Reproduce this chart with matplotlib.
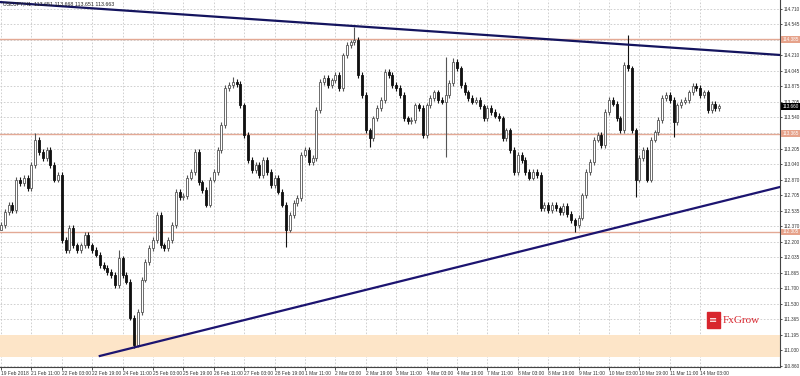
import numpy as np
from matplotlib import pyplot as plt
from matplotlib.patches import Rectangle

# USDJPY H1 chart (2-hour bars, closes)
closes = [
    112.38, 112.52, 112.60, 112.54, 112.87, 112.83, 112.89, 112.78, 113.03, 113.30,
    113.17, 113.10, 113.19, 113.03, 112.87, 112.92, 112.22, 112.11, 112.35, 112.16,
    112.11, 112.16, 112.27, 112.16, 112.11, 112.06, 111.95, 111.92, 111.87, 111.84,
    111.73, 112.02, 111.84, 111.77, 111.38, 111.09, 111.44, 111.79, 111.98, 112.13,
    112.22, 112.49, 112.16, 112.13, 112.22, 112.38, 112.74, 112.68, 112.69, 112.89,
    112.95, 113.17, 112.84, 112.76, 112.60, 112.87, 112.95, 113.19, 113.46, 113.86,
    113.89, 113.92, 113.90, 113.67, 113.35, 113.08, 112.97, 113.03, 112.92, 113.08,
    112.95, 112.81, 112.89, 112.74, 112.60, 112.33, 112.49, 112.62, 112.67, 113.14,
    113.19, 113.06, 113.10, 113.62, 113.92, 113.97, 113.89, 113.94, 114.00, 113.86,
    114.21, 114.32, 114.35, 114.38, 114.00, 113.78, 113.40, 113.32, 113.53, 113.64,
    113.73, 114.03, 114.00, 113.89, 113.86, 113.78, 113.53, 113.50, 113.51, 113.67,
    113.64, 113.35, 113.67, 113.75, 113.81, 113.73, 113.71, 113.78, 113.91, 114.14,
    114.07, 113.89, 113.81, 113.75, 113.71, 113.73, 113.66, 113.53, 113.64, 113.60,
    113.56, 113.53, 113.32, 113.40, 113.19, 112.95, 113.14, 113.08, 112.95, 112.89,
    112.95, 112.92, 112.56, 112.60, 112.54, 112.60, 112.56, 112.52, 112.59, 112.50,
    112.43, 112.38, 112.46, 112.70, 112.95, 113.06, 113.30, 113.35, 113.24, 113.60,
    113.73, 113.69, 113.53, 113.40, 114.11, 114.07, 113.40, 112.87, 113.10, 113.19,
    112.87, 113.30, 113.38, 113.51, 113.75, 113.78, 113.73, 113.49, 113.67, 113.71,
    113.73, 113.81, 113.88, 113.86, 113.78, 113.81, 113.62, 113.69, 113.64, 113.66,
]
first_open = 112.33

# notable wicks
spike_high = {9: 113.37, 31: 112.11, 61: 113.98, 93: 114.52, 117: 114.19,
              119: 114.18, 165: 114.43}
spike_low = {0: 112.33, 35: 111.05, 75: 112.14, 97: 113.22, 117: 113.11,
             151: 112.30, 167: 112.68, 177: 113.33}

price_ticks = [114.710, 114.545, 114.380, 114.210, 114.045, 113.875, 113.705, 113.540,
               113.375, 113.205, 113.040, 112.870, 112.705, 112.535, 112.370, 112.200,
               112.035, 111.865, 111.700, 111.530, 111.365, 111.195, 111.030, 110.860]

date_labels = ["19 Feb 2018", "21 Feb 11:00", "22 Feb 03:00", "22 Feb 19:00",
               "24 Feb 11:00", "25 Feb 03:00", "25 Feb 19:00", "26 Feb 11:00",
               "27 Feb 03:00", "28 Feb 19:00", "1 Mar 11:00", "2 Mar 03:00",
               "2 Mar 19:00", "3 Mar 11:00", "4 Mar 03:00", "4 Mar 19:00",
               "7 Mar 11:00", "8 Mar 03:00", "8 Mar 19:00", "9 Mar 11:00",
               "10 Mar 03:00", "10 Mar 19:00", "11 Mar 11:00", "14 Mar 03:00"]
bars_per_label = 8

levels = [114.385, 113.365, 112.305]
level_text = ["114.385", "113.365", "112.305"]
zone = (110.96, 111.19)
upper_line = ([-0.3, 205.0], [114.785, 114.214])
lower_line = ([26.0, 205.0], [110.967, 112.790])
last_price = "113.660"
header = "USDJPY,H1  113.651 113.668 113.651 113.663"

closes = np.array(closes)
opens = np.concatenate([[first_open], closes[:-1]])
wick = 0.03
highs = np.maximum(opens, closes) + wick
lows = np.minimum(opens, closes) - wick
for k, v in spike_high.items():
    highs[k] = v
for k, v in spike_low.items():
    lows[k] = v
x = np.arange(len(closes))

small = "Liberation Sans"

fig = plt.figure(figsize=(8, 3.76), dpi=100)
ax = fig.add_axes([0, 9 / 376, 780 / 800, 367 / 376])
ax.set_xlim(-0.26, 205.0)
ax.set_ylim(110.848, 114.807)

grid_c = "#c9c9c9"
for p in price_ticks:
    ax.axhline(p, color=grid_c, lw=0.6, ls=(0, (2, 2)), zorder=0)
for k in range(len(date_labels)):
    ax.axvline(k * bars_per_label, color=grid_c, lw=0.6, ls=(0, (2, 2)), zorder=0)

ax.axhspan(zone[0], zone[1], color="#fde5c8", zorder=0.5, lw=0)
for lv in levels:
    ax.axhline(lv, color="#e3a995", lw=1.0, zorder=1)

# candles
up = closes >= opens
ax.vlines(x[up], lows[up], highs[up], color="#555555", lw=0.8, zorder=2)
ax.vlines(x[~up], lows[~up], highs[~up], color="#111111", lw=0.8, zorder=2)
body = np.abs(closes - opens)
body = np.maximum(body, 0.008)
ax.bar(x[up], body[up], bottom=opens[up], width=0.55, color="white",
       edgecolor="#555555", linewidth=0.6, zorder=3)
ax.bar(x[~up], body[~up], bottom=closes[~up], width=0.55, color="#111111",
       edgecolor="#111111", linewidth=0.6, zorder=3)

ax.plot(upper_line[0], upper_line[1], color="#14145e", lw=1.6, zorder=4)
ax.plot(lower_line[0], lower_line[1], color="#1c1470", lw=1.6, zorder=4)

# axes styling
for s in ["top", "left"]:
    ax.spines[s].set_visible(False)
ax.spines["right"].set_color("#444444")
ax.spines["bottom"].set_color("#444444")
ax.spines["right"].set_linewidth(0.8)
ax.spines["bottom"].set_linewidth(0.8)
ax.yaxis.tick_right()
ax.set_yticks(price_ticks)
ax.set_yticklabels(["%.3f" % p for p in price_ticks], family=small)
ax.tick_params(axis="y", labelsize=3.3, length=1.5, width=0.6, pad=0.8, colors="#333333")
ax.set_xticks([k * bars_per_label for k in range(len(date_labels))])
ax.set_xticklabels(date_labels, ha="left", family=small)
ax.tick_params(axis="x", labelsize=3.5, length=2, width=0.6, pad=1.0, colors="#333333")

ty = ax.get_yaxis_transform()
for lv, t in zip(levels, level_text):
    ax.text(1.003, lv, t, transform=ty, fontsize=3.3, color="white", va="center",
            ha="left", clip_on=False, family=small,
            bbox=dict(boxstyle="square,pad=0.2", fc="#e6a28a", ec="none"))
ax.text(1.003, closes[-1], last_price, transform=ty, fontsize=3.3, color="white",
        va="center", ha="left", clip_on=False, family=small,
        bbox=dict(boxstyle="square,pad=0.2", fc="black", ec="none"))

ax.text(0.004, 0.997, header, transform=ax.transAxes, fontsize=3.8, color="#222222",
        va="top", ha="left", zorder=5, family=small)

# logo
ax.add_patch(Rectangle((0.906, 0.106), 0.017, 0.044, transform=ax.transAxes,
                       color="#d8262e", zorder=5))
ax.text(0.9145, 0.128, "\u2261", transform=ax.transAxes, color="white", fontsize=7,
        ha="center", va="center", zorder=6)
ax.text(0.927, 0.128, "FxGrow", transform=ax.transAxes, color="#d8262e", fontsize=8,
        family="Liberation Serif", ha="left", va="center", zorder=5)

fig.savefig("out.png", dpi=100)
